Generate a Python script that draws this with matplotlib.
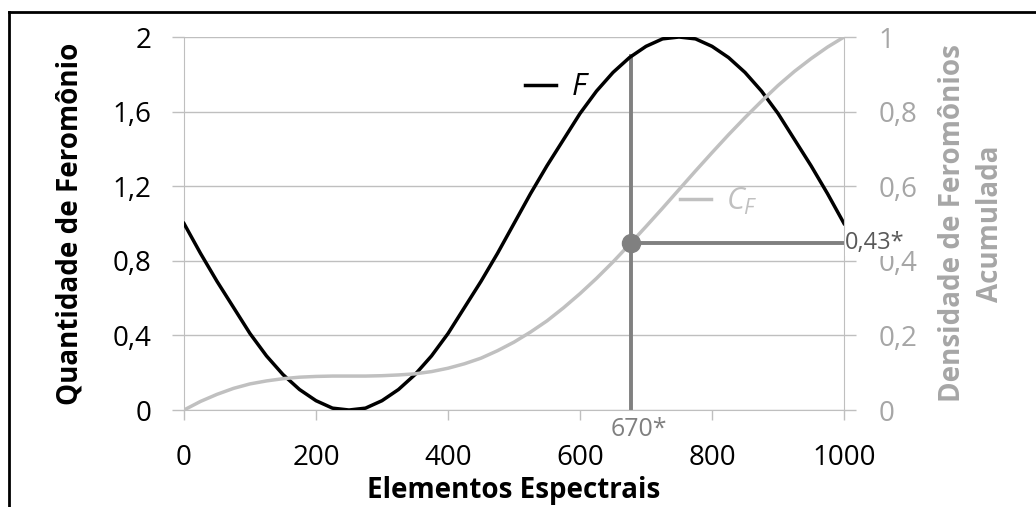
import matplotlib.pyplot as plt
from matplotlib.lines import Line2D

plt.rcParams['font.family'] = ['Open Sans', 'DejaVu Sans']
plt.rcParams['mathtext.fontset'] = 'custom'
plt.rcParams['mathtext.it'] = 'Open Sans:italic'
plt.rcParams['mathtext.rm'] = 'Open Sans'

# elementos espectrais (eixo x)
x = [0, 25, 50, 75, 100, 125, 150, 175, 200, 225, 250, 275, 300, 325, 350, 375, 400,
     425, 450, 475, 500, 525, 550, 575, 600, 625, 650, 675, 700, 725, 750, 775, 800,
     825, 850, 875, 900, 925, 950, 975, 1000]
# quantidade de feromonio F (eixo esquerdo)
F = [1.00, 0.84, 0.69, 0.55, 0.41, 0.29, 0.19, 0.11, 0.05, 0.01, 0.00, 0.01, 0.05,
     0.11, 0.19, 0.29, 0.41, 0.55, 0.69, 0.84, 1.00, 1.16, 1.31, 1.45, 1.59, 1.71,
     1.81, 1.89, 1.95, 1.99, 2.00, 1.99, 1.95, 1.89, 1.81, 1.71, 1.59, 1.45, 1.31,
     1.16, 1.00]
# densidade acumulada C_F (eixo direito)
CF = [0.000, 0.023, 0.042, 0.058, 0.070, 0.078, 0.084, 0.088, 0.090, 0.091, 0.091,
      0.091, 0.092, 0.094, 0.097, 0.103, 0.112, 0.124, 0.139, 0.159, 0.182, 0.209,
      0.239, 0.274, 0.312, 0.353, 0.397, 0.444, 0.492, 0.541, 0.591, 0.641, 0.690,
      0.738, 0.784, 0.828, 0.870, 0.908, 0.942, 0.973, 1.000]

left_ticks = [0, 0.4, 0.8, 1.2, 1.6, 2]
left_labels = ['0', '0,4', '0,8', '1,2', '1,6', '2']
right_ticks = [0, 0.2, 0.4, 0.6, 0.8, 1]
right_labels = ['0', '0,2', '0,4', '0,6', '0,8', '1']
x_ticks = [0, 200, 400, 600, 800, 1000]

# ponto marcado (como aparece desenhado)
sel_x = 677
sel_top = 1.9
sel_cf = 0.447
sel_x_label = '670*'
sel_cf_label = '0,43*'

grid_c = '#BFBFBF'
right_c = '#A6A6A6'
mark_c = '#808080'

fig = plt.figure(figsize=(10.36, 5.07), dpi=100)
ax = fig.add_axes([0.1776, 0.1913, 0.6371, 0.7357])
ax2 = ax.twinx()

ax.set_xlim(0, 1000)
ax.set_ylim(0, 2)
ax2.set_ylim(0, 1)

for a in (ax, ax2):
    for s in a.spines.values():
        s.set_visible(False)
ax.spines['left'].set_visible(True)
ax.spines['left'].set_color(grid_c)
ax.spines['bottom'].set_visible(True)
ax.spines['bottom'].set_color(grid_c)
ax2.spines['right'].set_visible(True)
ax2.spines['right'].set_color(grid_c)

ax.set_yticks(left_ticks)
ax.set_yticklabels(left_labels)
ax.set_xticks(x_ticks)
ax.tick_params(axis='y', length=8.6, width=1, color=grid_c, pad=15, labelsize=20)
ax.tick_params(axis='x', length=7.2, width=1, color=grid_c, pad=17, labelsize=20)
ax.grid(axis='y', color=grid_c, lw=1)
ax.set_axisbelow(True)

ax2.set_yticks(right_ticks)
ax2.set_yticklabels(right_labels)
ax2.tick_params(axis='y', length=8.6, width=1, color=grid_c, pad=16, labelsize=20,
                labelcolor=right_c)

ax.plot(x, F, color='black', lw=2.5, zorder=3)
ax2.plot(x, CF, color='#C0C0C0', lw=2.5, zorder=2)

# linhas do ponto selecionado
ax.plot([sel_x, sel_x], [0, sel_top], color=mark_c, lw=2.8, zorder=2)
ax2.plot([sel_x, 1000], [sel_cf, sel_cf], color=mark_c, lw=2.8, zorder=3)
ax2.plot([sel_x], [sel_cf], 'o', color=mark_c, ms=13, zorder=4)
t43 = ax2.text(1002, sel_cf, sel_cf_label, color='#595959', fontsize=17, va='center', ha='left',
               bbox=dict(facecolor='white', edgecolor='none', pad=0.5), zorder=6)
t43.set_clip_on(False)
ax.text(sel_x + 12, -0.04, sel_x_label, color=mark_c, fontsize=18, va='top', ha='center')

ax.set_xlabel('Elementos Espectrais', fontsize=20, fontweight='bold', labelpad=3)
ax.set_ylabel('Quantidade de Feromônio', fontsize=20, fontweight='bold', labelpad=20)
ax2.set_ylabel('Densidade de Feromônios\nAcumulada', fontsize=20, fontweight='bold',
               color=right_c, labelpad=15, linespacing=1.4)

h1 = Line2D([], [], color='black', lw=2.5)
leg1 = ax.legend([h1], ['$F$'], loc='center left', bbox_to_anchor=(0.475, 0.865),
                 frameon=False, fontsize=22, handlelength=1.0, handletextpad=0.5)
h2 = Line2D([], [], color='#C0C0C0', lw=2.5)
leg2 = ax2.legend([h2], ['$C_F$'], loc='center left', bbox_to_anchor=(0.71, 0.56),
                  frameon=False, fontsize=22, handlelength=1.0, handletextpad=0.5,
                  labelcolor='#C0C0C0')

# moldura (esquerda e topo)
fig.add_artist(Line2D([0.0087, 0.0087], [0, 0.976], color='black', lw=2, transform=fig.transFigure))
fig.add_artist(Line2D([0.0087, 1], [0.976, 0.976], color='black', lw=2, transform=fig.transFigure))

fig.savefig('out.png', dpi=100)
